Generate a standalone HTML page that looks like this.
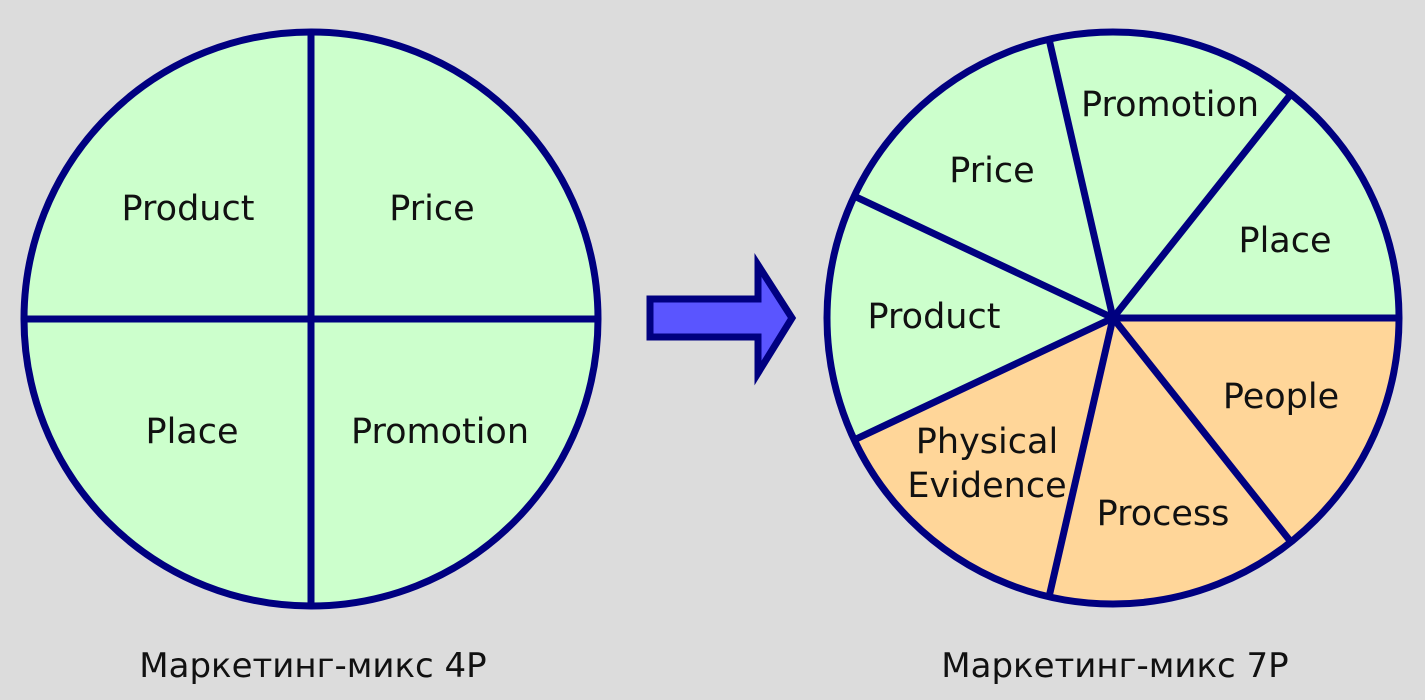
<!DOCTYPE html>
<html><head><meta charset="utf-8"><style>
html,body{margin:0;padding:0;background:#dcdcdc;}
svg{display:block}
text{font-family:"DejaVu Sans","Liberation Sans",sans-serif;fill:#111;}
</style></head><body>
<svg width="1425" height="700" viewBox="0 0 1425 700">
<rect width="1425" height="700" fill="#dcdcdc"/>
<!-- Left 4P -->
<circle cx="311" cy="319" r="287" fill="#ccffcc" stroke="#000080" stroke-width="7"/>
<line x1="311" y1="32" x2="311" y2="606" stroke="#000080" stroke-width="7"/>
<line x1="24" y1="319" x2="598" y2="319" stroke="#000080" stroke-width="7"/>
<g font-size="35" text-anchor="middle">
<text x="188" y="220">Product</text>
<text x="432" y="220">Price</text>
<text x="192" y="443">Place</text>
<text x="440" y="443">Promotion</text>
</g>
<text x="313" y="677" font-size="34" text-anchor="middle">Маркетинг-микс 4P</text>
<!-- Arrow -->
<polygon points="650,299 758,299 758,265 792,318 758,373 758,337 650,337" fill="#5a55ff" stroke="#000080" stroke-width="7"/>
<!-- Right 7P -->
<g stroke="none">
<path d="M1113,318 L1399,318 A286,286 0 0 1 1291,542 Z" fill="#ffd699"/>
<path d="M1113,318 L1291,542 A286,286 0 0 1 1049,597 Z" fill="#ffd699"/>
<path d="M1113,318 L1049,597 A286,286 0 0 1 854,440 Z" fill="#ffd699"/>
<path d="M1113,318 L854,440 A286,286 0 0 1 854,196 Z" fill="#ccffcc"/>
<path d="M1113,318 L854,196 A286,286 0 0 1 1049,39 Z" fill="#ccffcc"/>
<path d="M1113,318 L1049,39 A286,286 0 0 1 1291,94 Z" fill="#ccffcc"/>
<path d="M1113,318 L1291,94 A286,286 0 0 1 1399,318 Z" fill="#ccffcc"/>
</g>
<g stroke="#000080" stroke-width="7" fill="none">
<line x1="1113" y1="318" x2="1399" y2="318"/>
<line x1="1113" y1="318" x2="1291" y2="542"/>
<line x1="1113" y1="318" x2="1049" y2="597"/>
<line x1="1113" y1="318" x2="854" y2="440"/>
<line x1="1113" y1="318" x2="854" y2="196"/>
<line x1="1113" y1="318" x2="1049" y2="39"/>
<line x1="1113" y1="318" x2="1291" y2="94"/>
<circle cx="1113" cy="318" r="286"/>
</g>
<g font-size="35" text-anchor="middle">
<text x="1170" y="116">Promotion</text>
<text x="992" y="182">Price</text>
<text x="1285" y="252">Place</text>
<text x="934" y="328">Product</text>
<text x="1281" y="408">People</text>
<text x="987" y="453">Physical</text>
<text x="987" y="497">Evidence</text>
<text x="1163" y="525">Process</text>
</g>
<text x="1115" y="677" font-size="34" text-anchor="middle">Маркетинг-микс 7P</text>
</svg>
</body></html>
